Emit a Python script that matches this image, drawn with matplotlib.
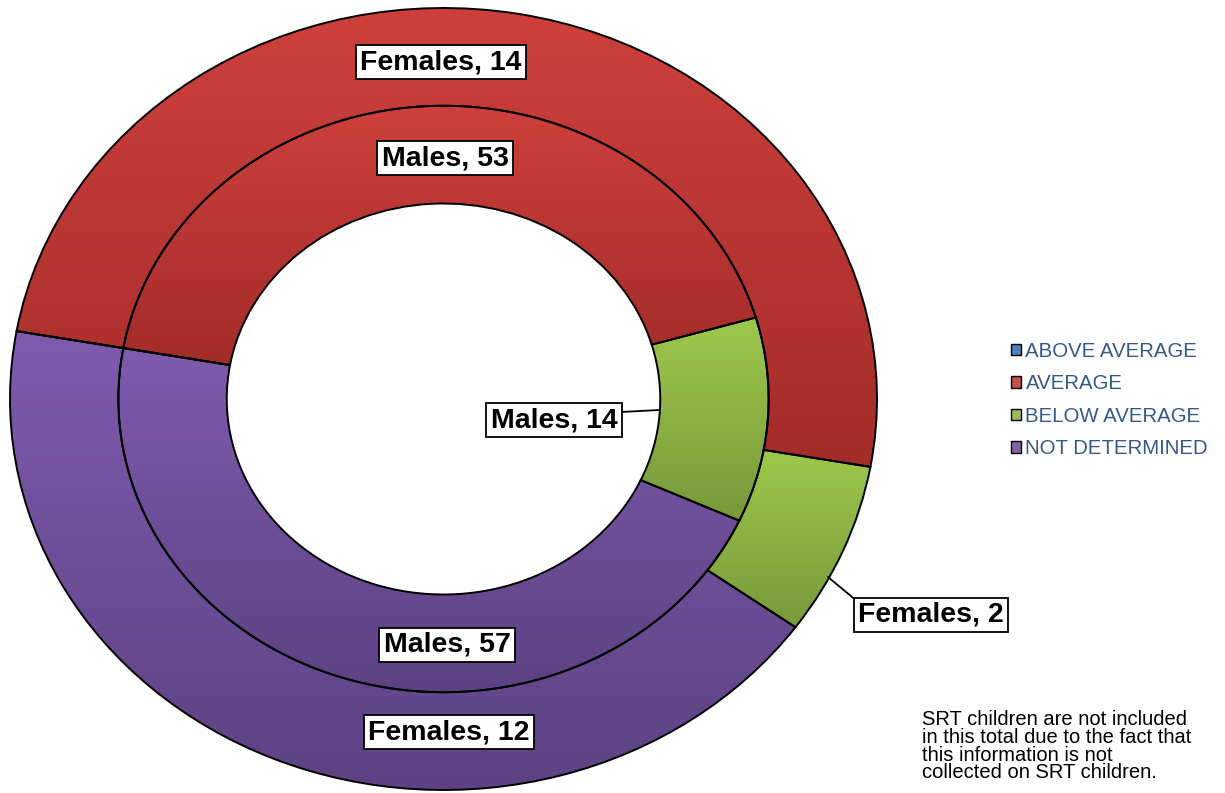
import numpy as np
import matplotlib
matplotlib.use("Agg")
import matplotlib.pyplot as plt
from matplotlib.colors import to_rgb
from matplotlib.patches import Patch

plt.rcParams['font.family'] = ['Liberation Sans', 'DejaVu Sans']

# categories and counts
categories = ["ABOVE AVERAGE", "AVERAGE", "BELOW AVERAGE", "NOT DETERMINED"]
males = [0, 53, 14, 57]
females = [0, 14, 2, 12]
note = ("SRT children are not included\n"
        "in this total due to the fact that\n"
        "this information is not\n"
        "collected on SRT children.")

# (legend colour, gradient top, gradient bottom)
legend_colors = ["#4F81BD", "#C0504D", "#9BBB59", "#8064A2"]
grad_top = ["#4F81BD", "#CE403C", "#9EC84C", "#7F5BAE"]
grad_bot = ["#3A6496", "#A32C29", "#77993A", "#5C4283"]

W, H = 1225, 793
fig = plt.figure(figsize=(W / 100, H / 100), dpi=100)
cx, cy, rx, ry = 443.5, 399, 433.5, 391
ax = fig.add_axes([(cx - rx) / W, (H - cy - ry) / H, 2 * rx / W, 2 * ry / H])


def gradient_fill(ax, wedge, top, bot):
    bb = wedge.get_path().get_extents()
    if bb.width < 1e-6 or bb.height < 1e-6:
        return
    n = 256
    t = np.linspace(0, 1, n)[:, None]
    img = (np.array(to_rgb(bot))[None, :] * (1 - t) + np.array(to_rgb(top))[None, :] * t)
    img = img[:, None, :]
    im = ax.imshow(img, extent=(bb.x0, bb.x1, bb.y0, bb.y1), origin='lower',
                   aspect='auto', interpolation='bilinear', zorder=1)
    im.set_clip_path(wedge)


wedge_kw = dict(width=0.25, edgecolor='black', linewidth=1.4, facecolor='none')
outer, _ = ax.pie(females, radius=1.0, startangle=170, counterclock=False,
                  wedgeprops=wedge_kw, normalize=True)
inner, _ = ax.pie(males, radius=0.75, startangle=170, counterclock=False,
                  wedgeprops=wedge_kw, normalize=True)
for ring in (outer, inner):
    for i, w in enumerate(ring):
        w.set_facecolor('none')
        w.set_zorder(2)
        gradient_fill(ax, w, grad_top[i], grad_bot[i])

ax.set_aspect('auto')
ax.set_xlim(-1, 1)
ax.set_ylim(-1, 1)
ax.axis('off')


def px(x, y):
    # pixel position in the picture -> data coordinates
    return ((x - cx) / rx, (cy - y) / ry)


box = dict(boxstyle='square,pad=0.15', facecolor='white', edgecolor='black', linewidth=1.3)
lab_kw = dict(fontsize=20.5, fontweight='bold', ha='center', va='center', zorder=5)

ax.text(*px(441, 62), f"Females, {females[1]}", bbox=box, **lab_kw)
ax.text(*px(445, 158), f"Males, {males[1]}", bbox=box, **lab_kw)
ax.text(*px(447, 645), f"Males, {males[3]}", bbox=box, **lab_kw)
ax.text(*px(449, 732), f"Females, {females[3]}", bbox=box, **lab_kw)

ax.annotate(f"Males, {males[2]}", xy=px(659, 410), xytext=px(554, 420),
            bbox=box, annotation_clip=False,
            arrowprops=dict(arrowstyle='-', color='black', lw=1.3, shrinkA=0, shrinkB=0,
                            relpos=(1.0, 0.8)),
            **lab_kw)
ax.annotate(f"Females, {females[2]}", xy=px(828, 577), xytext=px(931, 615),
            bbox=box, annotation_clip=False,
            arrowprops=dict(arrowstyle='-', color='black', lw=1.3, shrinkA=0, shrinkB=0,
                            relpos=(0.0, 1.0)),
            **lab_kw)

handles = [Patch(facecolor=c, edgecolor='black', linewidth=1.0) for c in legend_colors]
leg = fig.legend(handles, categories, loc='center left',
                 bbox_to_anchor=(1003 / W, (H - 400) / H), frameon=False,
                 fontsize=14.7, handlelength=0.5, handleheight=0.5,
                 handletextpad=0.2, labelspacing=0.66, borderaxespad=0)
for t in leg.get_texts():
    t.set_color('#35598A')

fig.text(922 / W, (H - 710) / H, note, fontsize=14.5, ha='left', va='top',
         linespacing=0.92, color='black')

fig.savefig("out.png", dpi=100)
